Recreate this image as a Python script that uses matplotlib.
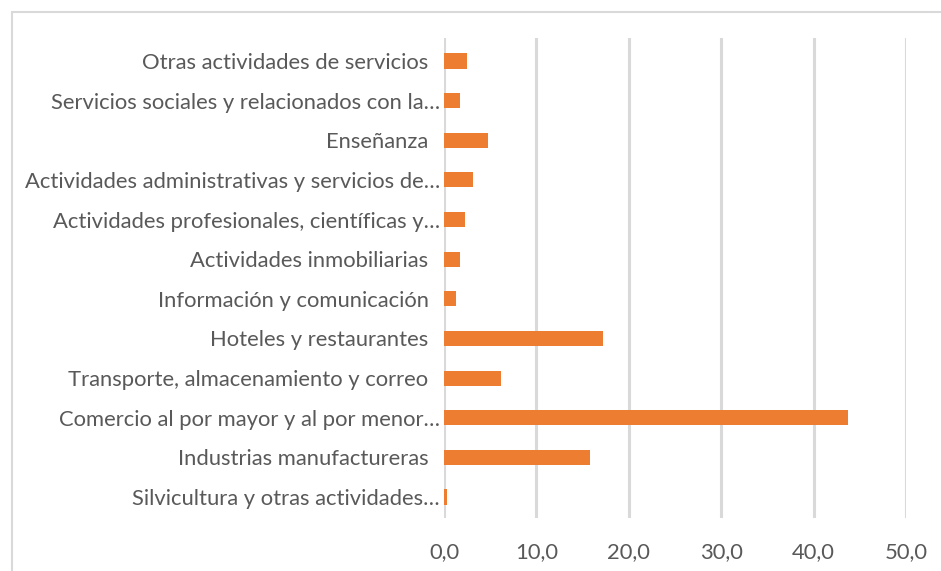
import numpy as np
import matplotlib
matplotlib.use("Agg")
import matplotlib.pyplot as plt
from matplotlib.patches import Rectangle

# categories listed bottom -> top as drawn
categorias = [
    "Silvicultura y otras actividades…",
    "Industrias manufactureras  ",
    "Comercio al por mayor y al por menor…",
    "Transporte, almacenamiento y correo  ",
    "Hoteles y restaurantes  ",
    "Información y comunicación  ",
    "Actividades inmobiliarias  ",
    "Actividades profesionales, científicas y…",
    "Actividades administrativas y servicios de…",
    "Enseñanza  ",
    "Servicios sociales y relacionados con la…",
    "Otras actividades de servicios  ",
]
valores = [0.3, 15.8, 43.7, 6.2, 17.2, 1.3, 1.7, 2.3, 3.1, 4.8, 1.7, 2.5]
xticks = [0, 10, 20, 30, 40, 50]
xticklabels = ["0,0", "10,0", "20,0", "30,0", "40,0", "50,0"]

plt.rcParams['font.family'] = ['Lato', 'DejaVu Sans']

fig = plt.figure(figsize=(9.41, 5.71), dpi=100)
W, H = 941, 571

# chart frame (partly cut off in the original)
fig.patches.append(Rectangle((12 / W, -0.1), 1.2, 1 - 12 / H + 0.1,
                             transform=fig.transFigure, fill=False,
                             edgecolor='#d9d9d9', linewidth=1.5))

ax = fig.add_axes([444 / W, 1 - 518 / H, (906 - 444) / W, (518 - 38) / H])
y = np.arange(len(categorias))
ax.barh(y, valores, height=0.38, color='#ED7D31', zorder=3)

ax.set_xlim(0, 50)
ax.set_ylim(-0.53, len(categorias) - 0.42)
ax.set_xticks(xticks)
ax.set_xticklabels(xticklabels)
ax.set_yticks(y)
ax.set_yticklabels(categorias)
ax.grid(axis='x', color='#d9d9d9', linewidth=2.2, zorder=0)
ax.grid(axis='y', visible=False)
for s in ax.spines.values():
    s.set_visible(False)
ax.tick_params(axis='both', length=0, colors='#595959', labelsize=15.8)
ax.tick_params(axis='y', pad=3)
ax.tick_params(axis='x', pad=17)

fig.savefig("out.png", dpi=100)
